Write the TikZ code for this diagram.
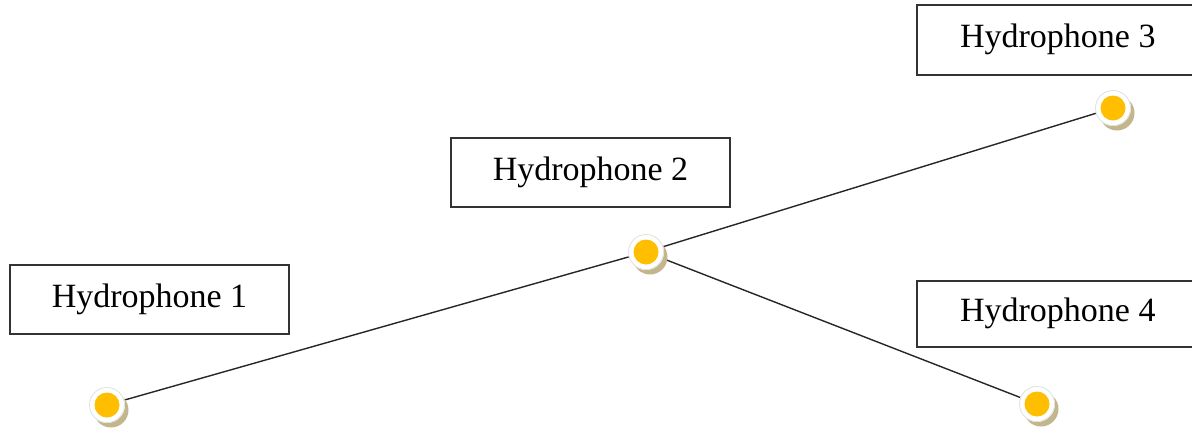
\documentclass[tikz,border=0pt]{standalone}
\usepackage{fontspec}
\setmainfont{Liberation Serif}
\begin{document}
\begin{tikzpicture}[x=0.5pt,y=-0.5pt,
  labelbox/.style={draw=black!80,line width=0.8pt,fill=white,inner sep=0pt,font=\fontsize{17}{20}\selectfont},
  link/.style={draw=black!85,line width=0.7pt}]
\useasboundingbox (0,0) rectangle (1192,428);
\tikzset{hnode/.pic={
  \fill[color={rgb,255:red,196;green,182;blue,140}] (4,5) circle (17.5);
  \fill[white] (0,0) circle (18);
  \draw[black!12,line width=0.4pt] (0,0) circle (17.5);
  \fill[color={rgb,255:red,255;green,190;blue,0}] (0,0) circle (12.5);
}}
\node[labelbox,minimum width=139.5pt,minimum height=34.5pt] (b1) at (149.5,299.5) {Hydrophone 1};
\node[labelbox,minimum width=139.5pt,minimum height=34.5pt] (b2) at (590.5,172.5) {Hydrophone 2};
\node[labelbox,minimum width=141pt,minimum height=35pt,anchor=north west] (b3) at (916,4) {Hydrophone 3};
\node[labelbox,minimum width=141pt,minimum height=33pt,anchor=north west] (b4) at (916,280) {Hydrophone 4};
\coordinate (h1) at (107,405);
\coordinate (h2) at (646,252);
\coordinate (h3) at (1113,108);
\coordinate (h4) at (1037,404);
\draw[link] (h1) -- (h2);
\draw[link] (h2) -- (h3);
\draw[link] (h2) -- (h4);
\pic at (h1) {hnode};
\pic at (h2) {hnode};
\pic at (h3) {hnode};
\pic at (h4) {hnode};
\end{tikzpicture}
\end{document}
